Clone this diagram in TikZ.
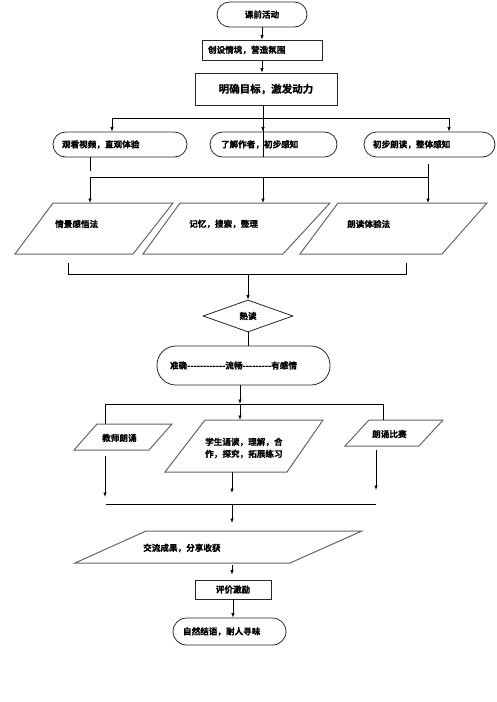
\documentclass[tikz,border=0pt]{standalone}
\usepackage{fontspec}
\newfontfamily\cjk{Noto Sans CJK SC}[BoldFont={Noto Sans CJK SC Bold},
  BoldFeatures={FakeBold=0.8}]
\usetikzlibrary{shapes.geometric, arrows.meta, positioning}
\tikzset{
  term/.style={rectangle, draw=black!85, line width=0.8pt, fill=white,
               font=\cjk\bfseries\fontsize{8.6}{12}\selectfont,
               inner ysep=0pt, align=left},
  proc/.style={rectangle, draw=black!85, line width=0.8pt, fill=white,
               font=\cjk\bfseries\fontsize{8.6}{12}\selectfont,
               inner ysep=0pt, align=left},
  para/.style={draw=black!60, line width=1pt, line join=miter},
  choice/.style={diamond, draw=black!85, line width=0.8pt, inner sep=0pt,
                 font=\cjk\bfseries\fontsize{8.6}{12}\selectfont},
  lbl/.style={font=\cjk\bfseries\fontsize{8.6}{12}\selectfont,
              inner sep=0pt, anchor=west},
  arrow/.style={-{Latex[length=4.5pt,width=3.5pt]}, line width=0.8pt, black},
  link/.style={line width=0.8pt, black},
}
\begin{document}
\begin{tikzpicture}[x=1pt, y=-1pt]
  \useasboundingbox (0,0) rectangle (496,702);
  % opening
  \node[term, rounded corners=12.5pt, minimum width=90pt, minimum height=25pt,
        align=center] (start) at (262,14.5) {课前活动};
  \node[proc, text width=108pt, inner xsep=6pt, minimum height=20pt]
    (scene) at (262,50) {创设情境，营造氛围};
  \node[proc, minimum width=142pt, minimum height=32pt,
        font=\cjk\bfseries\fontsize{10.5}{13}\selectfont]
    (goal) at (266,89) {明确目标，激发动力};
  \draw[arrow] (start) -- (start.south |- scene.north);
  \draw[arrow] (scene) -- (scene.south |- goal.north);
  % three ways in
  \node[term, rounded corners=12.5pt, text width=116pt, inner xsep=9pt,
        minimum height=25pt] (watch) at (120,144.5) {观看视频，直观体验};
  \node[term, rounded corners=12.5pt, text width=105pt, inner xsep=11pt,
        minimum height=25pt] (author) at (273.5,144.5) {了解作者，初步感知};
  \node[term, rounded corners=12.5pt, text width=113pt, inner xsep=9pt,
        minimum height=25pt] (firstread) at (429.5,144.5) {初步朗读，整体感知};
  \coordinate (j1) at (263,118);
  \coordinate (j1l) at (112,118);
  \coordinate (j1r) at (449,118);
  \draw[link] (j1 |- goal.south) -- (j1 |- author.south);
  \draw[link] (j1l) -- (j1r);
  \draw[arrow] (j1l) -- (j1l |- watch.north);
  \draw[arrow] (j1) -- (j1 |- author.north);
  \draw[arrow] (j1r) -- (j1r |- firstread.north);
  % methods
  \draw[para] (53,203) -- (173,203) -- (133,254) -- (15,254) -- cycle;
  \draw[para] (180,203) -- (330,203) -- (283,254) -- (143,254) -- cycle;
  \draw[para] (338,203) -- (487,203) -- (442,254) -- (300,254) -- cycle;
  \coordinate (mtop) at (0,203);
  \node[lbl] (m1) at (55,224) {情景感悟法};
  \node[lbl] (m2) at (189,224) {记忆，搜索，整理};
  \node[lbl] (m3) at (347,224) {朗读体验法};
  \coordinate (j2l) at (90,177);
  \coordinate (j2r) at (428,177);
  \draw[link] (j2l |- watch.south) -- ++(0,14);
  \draw[link] (j2l) -- (j2r) -- ++(0,-13);
  \draw[arrow] (j2l) -- (j2l |- mtop);
  \draw[arrow] (j1 |- j2l) -- (j1 |- mtop);
  \draw[arrow] (j2r) -- (j2r |- mtop);
  % reading
  \node[choice, minimum width=90pt, minimum height=32pt, aspect=2.8]
    (ripe) at (248,316) {熟读};
  \coordinate (j3l) at (68,274);
  \coordinate (j3r) at (406,274);
  \draw[link] (j3l) ++(0,-11) -- (j3l) -- (j3r) -- ++(0,-11);
  \draw[arrow] (ripe.north |- j3l) -- (ripe.north);
  \node[term, rounded corners=19pt, text width=147pt, inner xsep=13pt,
        minimum height=39pt] (fluent) at (243.5,365.5)
    {准确------------流畅---------有感情};
  \draw[link] (ripe.south) -- (ripe.south |- fluent.north);
  % practice
  \draw[para] (97,424) -- (172,424) -- (149,450) -- (74,450) -- cycle;
  \draw[para] (205,420) -- (323,420) -- (287,472) -- (165,472) -- cycle;
  \draw[para] (369,420) -- (443,420) -- (419,446) -- (345,446) -- cycle;
  \coordinate (teachertop) at (0,424);
  \coordinate (teacherbot) at (0,450);
  \coordinate (studytop) at (0,420);
  \coordinate (studybot) at (0,472);
  \coordinate (contesttop) at (0,420);
  \coordinate (contestbot) at (0,446);
  \node[lbl] (teacher) at (102,438) {教师朗诵};
  \node[lbl, align=left] (study) at (205,448)
    {学生诵读，理解，合\\作，探究，拓展练习};
  \node[lbl] (contest) at (372,434) {朗诵比赛};
  \coordinate (j4) at (240,404);
  \coordinate (j4l) at (105,404);
  \coordinate (j4r) at (383,404);
  \draw[arrow] (j4 |- fluent.south) -- (j4);
  \draw[arrow] (j4) -- (j4 |- studytop);
  \draw[link] (j4l |- teachertop) -- (j4l) -- (j4r) -- (j4r |- contesttop);
  \coordinate (j5) at (232,504);
  \coordinate (j5l) at (106,504);
  \coordinate (j5r) at (376,504);
  \draw[arrow, shorten <=6pt, shorten >=7pt] (j4l |- teacherbot) -- (j4l |- j5l);
  \draw[arrow, shorten >=11pt] (j5 |- studybot) -- (j5);
  \draw[arrow, shorten <=4pt, shorten >=14pt] (j5r |- contestbot) -- (j5r);
  \draw[link] (j5l) -- (j5r);
  % sharing
  \draw[para] (146,531) -- (362,531) -- (290,563) -- (75,563) -- cycle;
  \coordinate (sharetop) at (0,531);
  \coordinate (sharebot) at (0,563);
  \node[lbl] (share) at (143,548) {交流成果，分享收获};
  \draw[arrow, shorten >=8pt] (j5) -- (j5 |- sharetop);
  \node[proc, minimum width=76pt, minimum height=19pt, align=center]
    (praise) at (233,589.5) {评价激励};
  \draw[arrow, shorten <=2pt, shorten >=5pt] (j5 |- sharebot) -- (j5 |- praise.north);
  \node[term, rounded corners=13.5pt, text width=93pt, inner xsep=10pt,
        minimum height=27pt] (finish) at (229.5,631.5) {自然结语，耐人寻味};
  \draw[arrow] (praise) -- (praise.south |- finish.north);
\end{tikzpicture}
\end{document}
